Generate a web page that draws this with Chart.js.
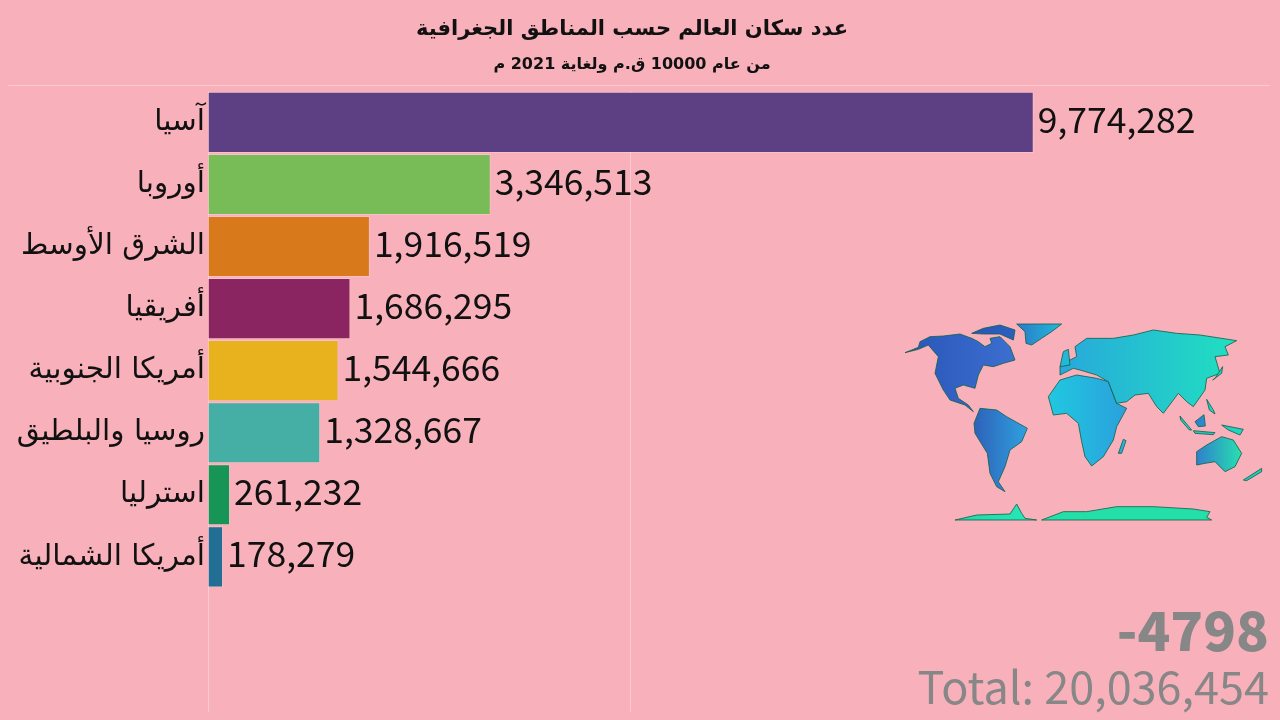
<!DOCTYPE html>
<html><head><meta charset="utf-8">
<style>html,body{margin:0;padding:0;background:#F8B1BB;overflow:hidden}
#wrap{position:absolute;left:0;top:0;width:1280px;height:720px}
canvas{direction:rtl}</style>
<script src="https://cdn.jsdelivr.net/npm/chart.js@4"></script>
</head><body><div id="wrap"><canvas id="c" width="1280" height="720"></canvas></div>
<script>
const categories = ['آسيا','أوروبا','الشرق الأوسط','أفريقيا','أمريكا الجنوبية','روسيا والبلطيق','استرليا','أمريكا الشمالية'];
const emptySlots = ['',''];
const population = [9774282,3346513,1916519,1686295,1544666,1328667,261232,178279];
const barColors = ['#5D3F84','#77BC57','#D87A1B','#8B2562','#E8B11E','#45AFA5','#179556','#236E94'];
const gridTicks = [0,5000000];
const axisMax = 12500000;
const titleText = 'عدد سكان العالم حسب المناطق الجغرافية';
const subtitleText = 'من عام 10000 ق.م ولغاية 2021 م';
const yearText = '-4798';
const totalText = 'Total: 20,036,454';
const NUM = '"Noto Sans CJK JP","Noto Sans",sans-serif';
const AR = '"DejaVu Sans",sans-serif';

// decorative world map outline, in a local 380x205 drawing space
const mapShapes = [
 {c:['#2A55B8','#3B6FD0'],p:[15,128,55,112,60,95,90,80,130,78,180,72,215,85,235,95,255,110,275,100,270,85,300,80,330,110,345,150,310,160,280,170,250,165,235,195,225,235,190,225,165,235,175,265,205,285,220,305,195,285,150,270,130,240,105,190,115,140,85,105,55,118]},
 {c:['#2A55B8','#2A60C0'],p:[215,70,250,55,300,45,345,60,340,90,300,72,250,72]},
 {c:['#2A7BC8','#22B8D8'],p:[350,42,485,42,455,65,425,85,395,105,378,100,375,65]},
 {c:['#2D62B8','#30A0E0'],p:[222,340,240,295,290,300,320,320,382,355,365,395,330,420,315,470,295,515,315,545,290,530,270,490,262,430,225,370]},
 {c:['#20C8E0','#2BA0DC'],p:[445,260,480,210,530,195,590,205,625,215,650,280,680,295,650,350,640,390,610,440,575,468,555,440,545,395,535,340,500,310,460,315]},
 {c:['#28A8DC','#20E0C0'],p:[480,195,480,170,510,150,530,140,525,110,560,85,640,85,700,75,760,60,830,70,900,75,1010,92,975,110,985,135,945,140,960,190,920,205,915,240,880,290,860,275,835,250,790,310,770,290,745,250,705,255,680,275,650,280,625,215,590,195,540,180,520,175]},
 {c:['#2F80CC','#28E0B0'],p:[890,465,890,425,920,405,965,380,1000,390,1025,430,1005,470,975,485,945,455,915,460]},
 {c:['#20D8A8','#28E8B8'],p:[165,630,230,615,330,612,350,582,365,610,375,625,410,630]},
 {c:['#24E0A8','#24E0A8'],p:[425,630,490,605,560,605,650,590,760,590,880,597,930,605,920,622,935,630]},
 {c:['#2AA0D8','#2AC0D8'],p:[655,430,670,388,678,392,665,430]},
 {c:['#2A80CC','#2A90D0'],p:[885,335,912,314,916,348,895,350]},
 {c:['#20C8C0','#20D8C0'],p:[840,318,875,360,868,360,842,330]},
 {c:['#20C8C0','#20D8C0'],p:[965,345,1030,358,1020,375,985,360]},
 {c:['#20D0C0','#20D8C0'],p:[920,268,940,300,945,312,928,300]},
 {c:['#24B8D8','#24B8D8'],p:[490,125,505,118,510,165,480,170]},
 {c:['#20C8C0','#20D0B0'],p:[1030,510,1085,475,1085,485,1040,512]},
 {c:['#20D0C0','#20D8C0'],p:[945,205,968,170,965,190,938,210]},
 {c:['#20C8C0','#20D0C0'],p:[880,362,945,368,940,374,885,370]}
];

const valueLabels = {id:'valueLabels',afterDatasetsDraw(chart){
  const ctx=chart.ctx, els=chart.getDatasetMeta(0).data;
  ctx.save(); ctx.direction='ltr'; ctx.textAlign='left'; ctx.textBaseline='middle';
  ctx.font='35.5px '+NUM; ctx.fillStyle='#111';
  els.forEach((b,i)=>ctx.fillText(population[i].toLocaleString('en-US'),b.x+4,b.y-3));
  ctx.restore();
}};
const decor = {id:'decor',afterDraw(chart){
  const ctx=chart.ctx;
  ctx.save();
  ctx.strokeStyle='rgba(255,255,255,0.35)'; ctx.lineWidth=1;
  ctx.beginPath(); ctx.moveTo(8,85.5); ctx.lineTo(1270,85.5); ctx.stroke();
  ctx.translate(900,310); ctx.scale(1/3,1/3);
  mapShapes.forEach(s=>{
    const xs=s.p.filter((v,i)=>i%2==0), g=ctx.createLinearGradient(Math.min(...xs),0,Math.max(...xs),0);
    g.addColorStop(0,s.c[0]); g.addColorStop(1,s.c[1]);
    ctx.beginPath();
    for(let i=0;i<s.p.length;i+=2){ i?ctx.lineTo(s.p[i],s.p[i+1]):ctx.moveTo(s.p[i],s.p[i+1]); }
    ctx.closePath(); ctx.fillStyle=g; ctx.fill();
    ctx.strokeStyle='#14604a'; ctx.lineWidth=2.5; ctx.stroke();
  });
  ctx.restore();
  ctx.save(); ctx.direction='ltr'; ctx.textAlign='right'; ctx.textBaseline='alphabetic'; ctx.fillStyle='#878787';
  ctx.font='900 54px '+NUM; ctx.fillText(yearText,1269,651);
  ctx.font='45px '+NUM; ctx.fillText(totalText,1269,704);
  ctx.restore();
}};

new Chart(document.getElementById('c'),{
  type:'bar',
  data:{labels:categories.concat(emptySlots),datasets:[{data:population,backgroundColor:barColors,borderColor:'rgba(255,255,255,0.2)',borderWidth:1,barPercentage:0.985,categoryPercentage:1}]},
  plugins:[valueLabels,decor],
  options:{
    indexAxis:'y',responsive:false,animation:false,devicePixelRatio:1,
    layout:{padding:{top:17,right:16,bottom:8,left:0}},
    plugins:{legend:{display:false},tooltip:{enabled:false},
      title:{display:true,text:titleText,color:'#111',font:{family:AR,size:21,weight:'bold'},padding:{top:0,bottom:13}},
      subtitle:{display:true,text:subtitleText,color:'#111',font:{family:AR,size:16,weight:'bold'},padding:{top:0,bottom:17}}},
    scales:{
      x:{type:'linear',min:0,max:axisMax,
        afterBuildTicks(s){s.ticks=gridTicks.map(v=>({value:v}));},
        afterFit(s){s.height=0;s.paddingLeft=0;s.paddingRight=0;},
        ticks:{display:false},border:{display:false},
        grid:{color:'rgba(255,255,255,0.35)',lineWidth:1,drawTicks:false}},
      y:{offset:true,
        afterFit(s){s.width=208;s.paddingTop=0;s.paddingBottom=0;},
        ticks:{color:'#111',font:{family:AR,size:29.5},padding:3,autoSkip:false},
        border:{display:false},grid:{display:false,drawTicks:false}}
    }
  }
});
</script></body></html>
